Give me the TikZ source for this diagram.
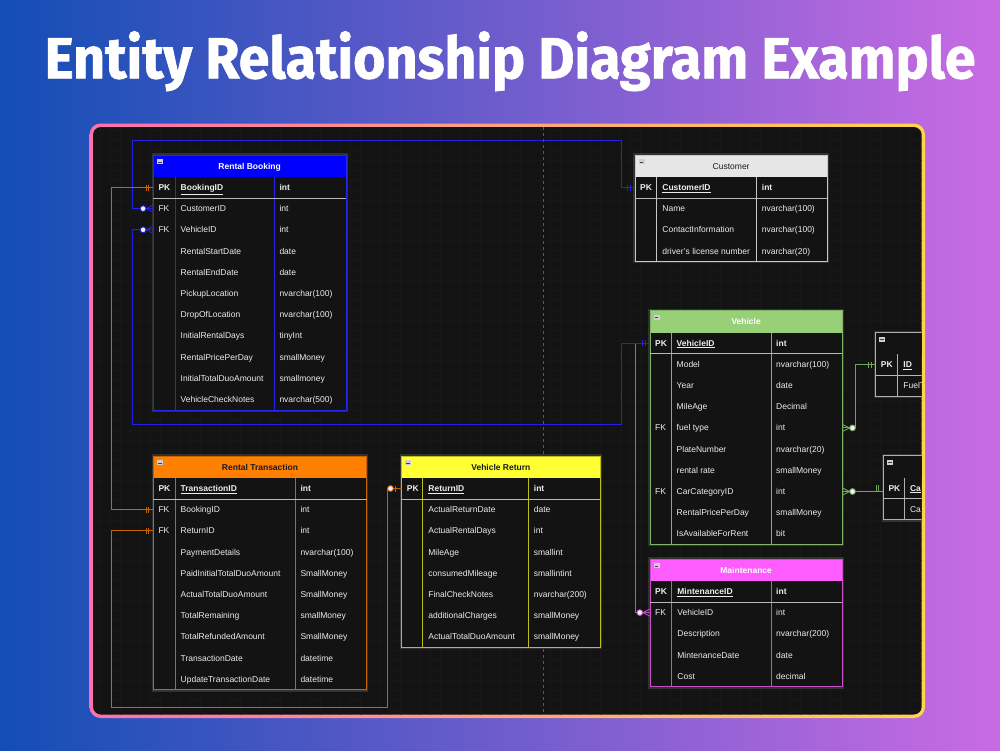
\documentclass[tikz,border=0pt]{standalone}
\usepackage{fontspec}
\setmainfont{Liberation Sans}
\newfontfamily\titlefont{Fira Sans}[BoldFeatures={FakeBold=1.2}]
\usepackage{graphicx}
\newcommand\fsz{\fontsize{8.5}{10}\selectfont}
\definecolor{bgL}{HTML}{124EB5}
\definecolor{bgM}{HTML}{6B5FCB}
\definecolor{bgR}{HTML}{C96BE3}
\definecolor{pnlL}{HTML}{FF6FB0}
\definecolor{pnlM}{HTML}{FF9E88}
\definecolor{pnlR}{HTML}{FFD54A}
\definecolor{canvas}{HTML}{131313}
\definecolor{gridc}{HTML}{171717}
\definecolor{pagec}{HTML}{5A5A5A}
\definecolor{rowtext}{HTML}{EDEDED}
\definecolor{sepc}{HTML}{B8B8B8}
\definecolor{darktitle}{HTML}{1A1A1A}
\definecolor{minusc}{HTML}{CFCFCF}
\definecolor{rbfill}{HTML}{0000FF}
\definecolor{rbline}{HTML}{2626F0}
\definecolor{cufill}{HTML}{E6E6E6}
\definecolor{culine}{HTML}{C8C8C8}
\definecolor{vefill}{HTML}{97D077}
\definecolor{veline}{HTML}{82B366}
\definecolor{rtfill}{HTML}{FF8000}
\definecolor{rtline}{HTML}{C86400}
\definecolor{vrfill}{HTML}{FFFF33}
\definecolor{vrline}{HTML}{BDBD1A}
\definecolor{mtfill}{HTML}{FF5CFF}
\definecolor{mtline}{HTML}{C94FC9}
\definecolor{grayline}{HTML}{B0B0B0}
\definecolor{cblue}{HTML}{2222E6}
\definecolor{corange}{HTML}{C86400}
\definecolor{cgreen}{HTML}{6FA855}
\definecolor{cmag}{HTML}{C050C0}
\definecolor{dotfill}{HTML}{F2F0FF}

% table geometry: name, top, left, colA, colB, right
\newcommand\tabgeom[6]{\def\TN{#1}\def\TT{#2}\def\TL{#3}\def\TA{#4}\def\TB{#5}\def\TR{#6}}
% frame: nrows, header fill, border colour, title colour, title
\newcommand\tabframe[5]{%
  \pgfmathsetmacro\Hb{\TT+22}%
  \pgfmathsetmacro\Sp{\TT+43}%
  \pgfmathsetmacro\Bt{\TT+43+#1*21.2}%
  \draw[white, opacity=0.13, line width=3.5] (\TL,\TT) rectangle (\TR,\Bt);
  \fill[canvas] (\TL,\TT) rectangle (\TR,\Bt);
  \fill[#2] (\TL,\TT) rectangle (\TR,\Hb);
  \draw[#3, line width=0.9] (\TL,\TT) rectangle (\TR,\Bt) (\TA,\Hb) -- (\TA,\Bt) (\TB,\Hb) -- (\TB,\Bt);
  \draw[sepline] (\TL,\Sp) -- (\TR,\Sp);
  \fill[minusc] (\TL+3.5,\TT+4.3) rectangle ++(6,5);
  \draw[black!75, line width=0.6] (\TL+4.6,\TT+6.8) -- ++(3.8,0);
  \node[htitle, text=#4] (\TN) at ({(\TL+\TR)/2},\TT+14) {#5};
}
\newcommand\pkrow[3]{%
  \pgfmathsetmacro\Yc{\TT+32.5}%
  \node[rowarea, minimum width={\TR-\TL}] (\TN-0) at ({(\TL+\TR)/2},\Yc) {};
  \if\relax\detokenize{#1}\relax\else\node[bcell] (\TN-0-k) at (\TL+5,\Yc+3) {#1};\fi
  \if\relax\detokenize{#2}\relax\else\node[bcell] (\TN-0-f) at (\TA+5.5,\Yc+3) {\underline{#2}};\fi
  \if\relax\detokenize{#3}\relax\else\node[bcell] (\TN-0-t) at (\TB+5,\Yc+3) {#3};\fi
}
\newcommand\erow[4]{%
  \pgfmathsetmacro\Yc{\TT+43+(#1-0.5)*21.2}%
  \node[rowarea, minimum width={\TR-\TL}] (\TN-#1) at ({(\TL+\TR)/2},\Yc) {};
  \if\relax\detokenize{#2}\relax\else\node[cell] (\TN-#1-k) at (\TL+5,\Yc+3) {#2};\fi
  \if\relax\detokenize{#3}\relax\else\node[cell] (\TN-#1-f) at (\TA+5.5,\Yc+3) {#3};\fi
  \if\relax\detokenize{#4}\relax\else\node[cell] (\TN-#1-t) at (\TB+5,\Yc+3) {#4};\fi
}

\begin{document}
\begin{tikzpicture}[x=1pt,y=-1pt,
  cell/.style={anchor=base west, inner sep=0pt, text=rowtext, font=\fsz},
  bcell/.style={cell, font=\fsz\bfseries},
  rowarea/.style={inner sep=0pt, minimum height=21pt},
  htitle/.style={anchor=base, inner sep=0pt, font=\fsz},
  sepline/.style={draw=sepc, line width=0.9},
  bluec/.style={color=cblue, line width=0.9},
  orangec/.style={color=corange, line width=0.9},
  greenc/.style={color=cgreen, line width=0.9},
  magc/.style={color=cmag, line width=0.9},
  pagebreak/.style={draw=pagec, line width=0.6, dash pattern=on 3pt off 3pt},
  pics/twobar/.style={code={\draw (-4.5,-3) -- (-4.5,3) (-7,-3) -- (-7,3);}},
  pics/zmany/.style={code={\draw (0,-3.5) -- (-7,0) -- (0,3.5); \draw[fill=dotfill] (-10,0) circle (2.9);}},
  pics/zone/.style={code={\draw (-6.5,-3) -- (-6.5,3); \draw[fill=dotfill] (-11,0) circle (2.9);}},
]
\useasboundingbox (0,0) rectangle (1000,750);
% background
\shade[left color=bgL, middle color=bgM, right color=bgR] (0,0) rectangle (1000,750);
% title
\node[anchor=base, inner sep=0pt, text=white, font=\titlefont\bfseries\fontsize{58}{62}\selectfont] (title) at (510,78.3)
  {\resizebox{931pt}{\height}{Entity Relationship Diagram Example}};
% panel
\shade[left color=pnlL, middle color=pnlM, right color=pnlR, rounded corners=11] (89.5,123.5) rectangle (925,718);
\fill[canvas, rounded corners=8] (93,127) rectangle (921.7,714.5);
\begin{scope}
\clip[rounded corners=8] (93,127) rectangle (921.7,714.5);
\draw[gridc, line width=0.4, step=10pt] (93,127) grid (922,715);
\draw[pagebreak] (543.3,127) -- (543.3,714.5);

% Rental Booking
\tabgeom{rb}{155}{153.3}{175}{274.3}{346}
\tabframe{10}{rbfill}{rbline}{white}{\bfseries Rental Booking}
\pkrow{PK}{BookingID}{int}
\erow{1}{FK}{CustomerID}{int}
\erow{2}{FK}{VehicleID}{int}
\erow{3}{}{RentalStartDate}{date}
\erow{4}{}{RentalEndDate}{date}
\erow{5}{}{PickupLocation}{nvarchar(100)}
\erow{6}{}{DropOfLocation}{nvarchar(100)}
\erow{7}{}{InitialRentalDays}{tinyInt}
\erow{8}{}{RentalPricePerDay}{smallMoney}
\erow{9}{}{InitialTotalDuoAmount}{smallmoney}
\erow{10}{}{VehicleCheckNotes}{nvarchar(500)}

% Customer
\tabgeom{cust}{155}{635}{656.7}{756.7}{827.3}
\tabframe{3}{cufill}{culine}{darktitle}{Customer}
\pkrow{PK}{CustomerID}{int}
\erow{1}{}{Name}{nvarchar(100)}
\erow{2}{}{ContactInformation}{nvarchar(100)}
\erow{3}{}{driver's license number}{nvarchar(20)}

% Vehicle
\tabgeom{veh}{310.7}{650}{671}{771}{842.3}
\tabframe{9}{vefill}{veline}{white}{\bfseries Vehicle}
\pkrow{PK}{VehicleID}{int}
\erow{1}{}{Model}{nvarchar(100)}
\erow{2}{}{Year}{date}
\erow{3}{}{MileAge}{Decimal}
\erow{4}{FK}{fuel type}{int}
\erow{5}{}{PlateNumber}{nvarchar(20)}
\erow{6}{}{rental rate}{smallMoney}
\erow{7}{FK}{CarCategoryID}{int}
\erow{8}{}{RentalPricePerDay}{smallMoney}
\erow{9}{}{IsAvailableForRent}{bit}

% Rental Transaction
\tabgeom{rt}{456}{153.3}{175}{295.3}{366.7}
\tabframe{9}{rtfill}{rtline}{darktitle}{\bfseries Rental Transaction}
\pkrow{PK}{TransactionID}{int}
\erow{1}{FK}{BookingID}{int}
\erow{2}{FK}{ReturnID}{int}
\erow{3}{}{PaymentDetails}{nvarchar(100)}
\erow{4}{}{PaidInitialTotalDuoAmount}{SmallMoney}
\erow{5}{}{ActualTotalDuoAmount}{SmallMoney}
\erow{6}{}{TotalRemaining}{smallMoney}
\erow{7}{}{TotalRefundedAmount}{SmallMoney}
\erow{8}{}{TransactionDate}{datetime}
\erow{9}{}{UpdateTransactionDate}{datetime}

% Vehicle Return
\tabgeom{vr}{456}{401.7}{422.7}{528.7}{600}
\tabframe{7}{vrfill}{vrline}{darktitle}{\bfseries Vehicle Return}
\pkrow{PK}{ReturnID}{int}
\erow{1}{}{ActualReturnDate}{date}
\erow{2}{}{ActualRentalDays}{int}
\erow{3}{}{MileAge}{smallint}
\erow{4}{}{consumedMileage}{smallintint}
\erow{5}{}{FinalCheckNotes}{nvarchar(200)}
\erow{6}{}{additionalCharges}{smallMoney}
\erow{7}{}{ActualTotalDuoAmount}{smallMoney}

% Maintenance
\tabgeom{mt}{559}{650}{671.7}{771}{842.3}
\tabframe{4}{mtfill}{mtline}{white}{\bfseries Maintenance}
\pkrow{PK}{MintenanceID}{int}
\erow{1}{FK}{VehicleID}{int}
\erow{2}{}{Description}{nvarchar(200)}
\erow{3}{}{MintenanceDate}{date}
\erow{4}{}{Cost}{decimal}

% Fuel type (cut off at the right edge)
\tabgeom{fuel}{332.3}{875.7}{897.7}{960}{960}
\tabframe{1}{canvas}{grayline}{white}{}
\pkrow{PK}{ID}{}
\erow{1}{}{FuelT}{}

% Car category (cut off at the right edge)
\tabgeom{cat}{455.7}{883.3}{904.3}{960}{960}
\tabframe{1}{canvas}{grayline}{white}{}
\pkrow{PK}{Ca}{}
\erow{1}{}{Ca}{}

% bend points
\coordinate (bx1) at (132.7,140.7);
\coordinate (bx2) at (621.7,140.7);
\coordinate (bx3) at (132.7,424.3);
\coordinate (bx4) at (621.7,424.3);
\coordinate (ox1) at (111.7,0);
\coordinate (ox2) at (111.2,707.3);
\coordinate (ox3) at (387.7,707.3);
\coordinate (gx) at (855.5,0);
\coordinate (mx) at (635,0);

% connectors
\draw[magc] (veh-0.west) -- (veh-0.west -| mx) |- (mt-1.west);
\draw[bluec] (rb-1.west) -| (bx1) -- (bx2) |- (cust-0.west);
\draw[bluec] (rb-2.west) -| (bx3) -- (bx4) |- (veh-0.west);
\draw[orangec] (rb-0.west) -- (rb-0.west -| ox1) |- (rt-1.west);
\draw[orangec] (rt-2.west) -| (ox2) -- (ox3) |- (vr-0.west);
\draw[greenc] (veh-4.east) -- (veh-4.east -| gx) |- (fuel-0.west);
\draw[greenc] (veh-7.east) -- (veh-7.east -| cat-0.west);

% ends
\pic[bluec] at (rb-1.west) {zmany};
\pic[bluec] at (cust-0.west) {twobar};
\pic[bluec] at (rb-2.west) {zmany};
\pic[bluec] at (veh-0.west) {twobar};
\pic[orangec] at (rb-0.west) {twobar};
\pic[orangec] at (rt-1.west) {twobar};
\pic[orangec] at (rt-2.west) {twobar};
\pic[orangec] at (vr-0.west) {zone};
\pic[greenc, xscale=-1] at (veh-4.east) {zmany};
\pic[greenc] at (fuel-0.west) {twobar};
\pic[greenc, xscale=-1] at (veh-7.east) {zmany};
\pic[greenc] at (cat-0.west) {twobar};
\pic[magc] at (mt-1.west) {zmany};
\end{scope}
\end{tikzpicture}
\end{document}
